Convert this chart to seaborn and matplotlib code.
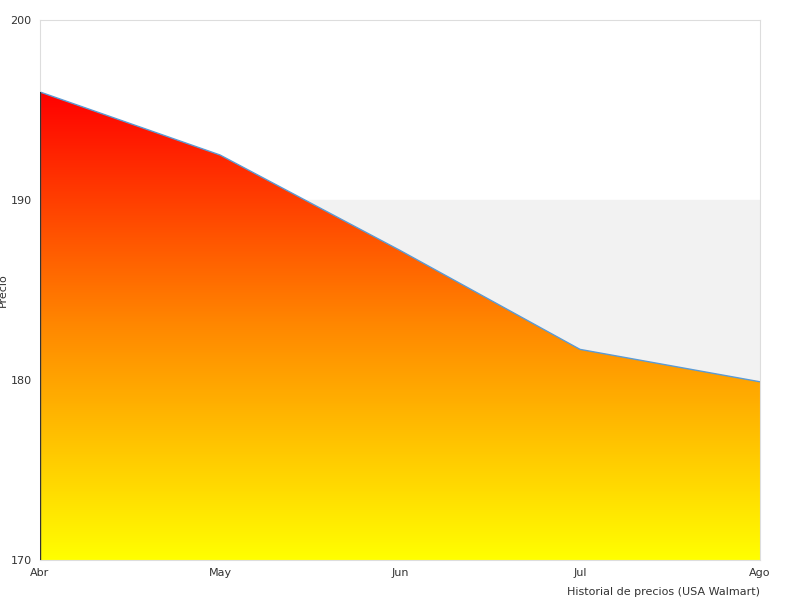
import matplotlib
matplotlib.use("Agg")
import matplotlib.pyplot as plt
import seaborn as sns
import numpy as np
from matplotlib.colors import LinearSegmentedColormap

months = ["Abr", "May", "Jun", "Jul", "Ago"]
prices = [196.0, 192.5, 187.2, 181.7, 179.9]

sns.set_style("white")
fig = plt.figure(figsize=(8, 6), dpi=100)
ax = fig.add_axes([0.05, 0.0667, 0.9, 0.9])
x = np.arange(len(months))
ax.set_xlim(0, len(months) - 1)
ax.set_ylim(170, 200)
ax.axhspan(180, 190, color="#f2f2f2", zorder=0)

poly = ax.fill_between(x, prices, 170, color="none", zorder=1)
cmap = LinearSegmentedColormap.from_list("ry", ["#ffff00", "#ff8800", "#ff0000"])
grad = np.linspace(0, 1, 256).reshape(-1, 1)
im = ax.imshow(grad, cmap=cmap, aspect="auto", origin="lower",
               extent=[0, len(months) - 1, 170, max(prices)], zorder=1)
im.set_clip_path(poly.get_paths()[0], transform=ax.transData)
sns.lineplot(x=x, y=prices, ax=ax, color="#5b9bd5", linewidth=1, zorder=2)
ax.plot([0, 0], [170, prices[0]], color="#333333", linewidth=1, zorder=3)

ax.set_xticks(x)
ax.set_xticklabels(months)
ax.set_yticks([170, 180, 190, 200])
ax.tick_params(labelsize=8, colors="#333333", length=0, pad=6)
for s in ax.spines.values():
    s.set_color("#dddddd")
ax.set_ylabel("Precio", fontsize=8, color="#333333", labelpad=2)
ax.set_xlabel("Historial de precios (USA Walmart)", fontsize=8, color="#333333",
              loc="right", labelpad=6)
fig.savefig("out.png")
